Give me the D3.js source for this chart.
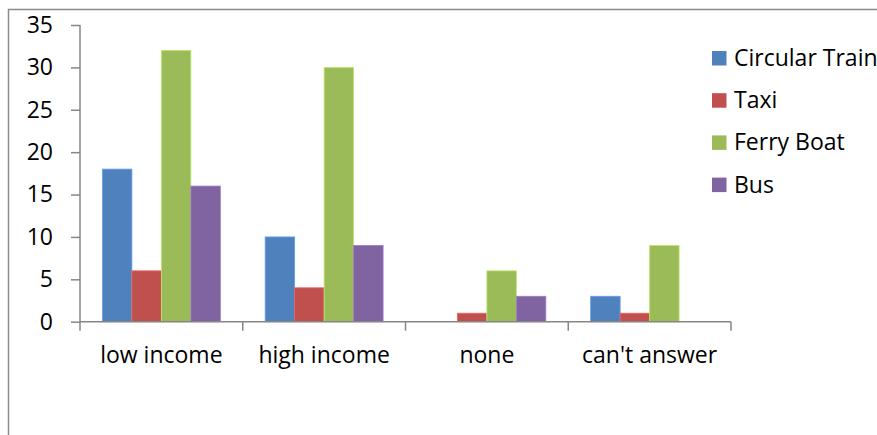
<!DOCTYPE html>
<html><head><meta charset="utf-8">
<script src="https://cdn.jsdelivr.net/npm/d3@7"></script>
<style>body{margin:0;background:#fff}svg{display:block}text{font-family:"Open Sans",Lato,sans-serif;fill:#000}</style>
</head><body><svg id="c" width="877" height="435"></svg>
<script>
const categories = ["low income","high income","none","can't answer"];
const seriesNames = ["Circular Train","Taxi","Ferry Boat","Bus"];
const circularTrain = [18,10,0,3];
const taxi = [6,4,1,1];
const ferryBoat = [32,30,6,9];
const bus = [16,9,3,0];
const colors = ["#4F81BD","#C0504D","#9BBB59","#8064A2"];
const yTicks = [0,5,10,15,20,25,30,35];
const seriesValues = [circularTrain,taxi,ferryBoat,bus];
const FS = 23;

const svg = d3.select("#c");
svg.append("path").attr("d","M8.5,435 V9.5 H877").attr("fill","none").attr("stroke","#8c8c8c").attr("stroke-width",1.5);

const x0 = d3.scaleBand().domain(categories).range([80,731]);
const x1 = d3.scaleBand().domain(seriesNames).range([0,x0.bandwidth()]).paddingOuter(0.76).paddingInner(0);
const y = d3.scaleLinear().domain([0,35]).range([321.7,25]);

const data = categories.map((c,i)=>({cat:c, vals: seriesNames.map((s,j)=>({s, v: seriesValues[j][i], color: colors[j]}))}));
const g = svg.append("g").selectAll("g").data(data).join("g").attr("transform",d=>`translate(${x0(d.cat)},0)`);
g.selectAll("rect").data(d=>d.vals.filter(v=>v.v>0)).join("rect")
  .attr("x",d=>x1(d.s)).attr("width",x1.bandwidth())
  .attr("y",d=>y(d.v)).attr("height",d=>y(0)-y(d.v))
  .attr("fill",d=>d.color).attr("stroke",d=>d3.color(d.color).brighter(0.6)).attr("stroke-width",0.8);

const yAxis = svg.append("g").attr("transform","translate(80,0)")
  .call(d3.axisLeft(y).tickValues(yTicks).tickSize(9).tickPadding(18));
yAxis.select(".domain").attr("stroke","#868686").attr("stroke-width",1.5).attr("d","M0,"+y(35)+"V"+y(0));
yAxis.selectAll(".tick line").attr("stroke","#868686").attr("stroke-width",1.5);
yAxis.selectAll("text").attr("font-size",FS).attr("font-family","Open Sans").attr("fill","#000");

const xg = svg.append("g").attr("transform",`translate(0,${y(0)})`);
xg.append("line").attr("x1",80).attr("x2",731).attr("stroke","#868686").attr("stroke-width",1.5);
const tickPos = categories.map(c=>x0(c)).concat([x0.range()[1]]);
xg.selectAll("line.t").data(tickPos).join("line").attr("class","t")
  .attr("x1",d=>d).attr("x2",d=>d).attr("y1",0).attr("y2",9).attr("stroke","#868686").attr("stroke-width",1.5);
xg.selectAll("text").data(categories).join("text")
  .attr("x",d=>x0(d)+x0.bandwidth()/2).attr("y",41.5).attr("text-anchor","middle").attr("font-size",FS).text(d=>d);

const lg = svg.append("g").selectAll("g").data(seriesNames).join("g")
  .attr("transform",(d,i)=>`translate(712,${51+i*42.2})`);
lg.append("rect").attr("width",14.5).attr("height",14.5).attr("fill",(d,i)=>colors[i]);
lg.append("text").attr("x",22).attr("y",15).attr("font-size",FS).text(d=>d);
</script></body></html>
